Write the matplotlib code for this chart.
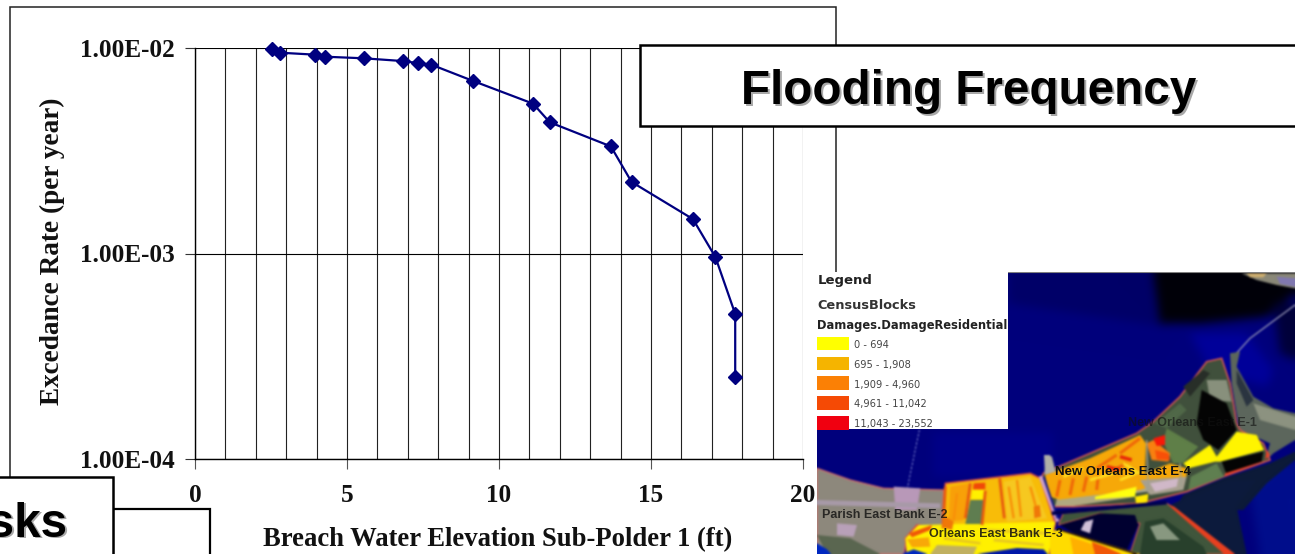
import matplotlib
matplotlib.use("Agg")
import numpy as np
import matplotlib.pyplot as plt
from matplotlib.backends.backend_agg import FigureCanvasAgg
from matplotlib.figure import Figure
from matplotlib.patches import Polygon, Rectangle

# ---- chart data
breach_elev = [2.53, 2.78, 3.95, 4.28, 5.55, 6.83, 7.32, 7.76, 9.15, 11.12, 11.67, 13.68, 14.36, 16.38, 17.12, 17.77, 17.77]
exceed_rate = [9.89e-3, 9.49e-3, 9.28e-3, 9.07e-3, 8.91e-3, 8.64e-3, 8.45e-3, 8.31e-3, 6.91e-3,
               5.36e-3, 4.35e-3, 3.32e-3, 2.23e-3, 1.47e-3, 9.6e-4, 5.08e-4, 2.5e-4]
x_ticks = [0, 5, 10, 15, 20]
y_ticks = [1e-2, 1e-3, 1e-4]
y_tick_labels = ["1.00E-02", "1.00E-03", "1.00E-04"]
x_label = "Breach Water Elevation Sub-Polder 1 (ft)"
y_label = "Excedance Rate (per year)"
title_main = "Flooding Frequency"
title_cut = "Risks"
legend_titles = ["Legend", "CensusBlocks", "Damages.DamageResidential"]
legend_labels = ["0 - 694", "695 - 1,908", "1,909 - 4,960", "4,961 - 11,042", "11,043 - 23,552"]
legend_colors = ["#ffff00", "#f5b400", "#fb8005", "#f54a05", "#f00010"]
map_labels = ["New Orleans East E-1", "New Orleans East E-4", "Parish East Bank E-2", "Orleans East Bank E-3"]

W, H = 1295, 554
fig = plt.figure(figsize=(W / 100, H / 100), dpi=100, facecolor="white")
SERIF = "Liberation Serif"
SANS = "Liberation Sans"


def px_axes(x0, y0, x1, y1, z):
    a = fig.add_axes([x0 / W, 1 - y1 / H, (x1 - x0) / W, (y1 - y0) / H], zorder=z)
    a.patch.set_alpha(0)
    a.set_axis_off()
    return a


# ---- chart frame
under = px_axes(0, 0, W, H, 1)
under.set_xlim(0, W)
under.set_ylim(H, 0)
under.add_patch(Rectangle((10, 7), 826, 600, fc="white", ec="#222222", lw=1.1))

# ---- chart
ax = fig.add_axes([195 / W, 1 - 459 / H, (803 - 195) / W, (459 - 48) / H], zorder=2)
ax.patch.set_alpha(0)
ax.set_xlim(0, 20)
ax.set_yscale("log")
ax.set_ylim(1e-4, 1e-2)
ax.set_xticks(x_ticks)
ax.set_xticks(range(0, 21), minor=True)
ax.set_yticks(y_ticks)
ax.set_yticklabels(y_tick_labels, fontfamily=SERIF, fontweight="bold", fontsize=18.2, color="#111111")
ax.yaxis.set_minor_locator(matplotlib.ticker.NullLocator())
ax.set_xticklabels([str(t) for t in x_ticks], fontfamily=SERIF, fontweight="bold", fontsize=18.2, color="#111111")
ax.tick_params(axis="x", which="major", length=7, width=0.8, color="#555555", pad=11)
ax.tick_params(axis="x", which="minor", length=0)
ax.tick_params(axis="y", which="major", length=7, width=0.8, color="#333333", pad=7.5)
ax.grid(True, which="major", axis="y", color="black", lw=0.8)
ax.grid(True, which="both", axis="x", color="#222222", lw=0.8)
for s in ["top", "right"]:
    ax.spines[s].set_visible(False)
for s in ["left", "bottom"]:
    ax.spines[s].set_linewidth(1.0)
ax.plot(breach_elev, exceed_rate, color="#000080", lw=1.6, marker="D", ms=7.4, mec="#000080", clip_on=False, zorder=5)
under.text(498, 540, x_label, family=SERIF, weight="bold", fontsize=19.2, ha="center", va="center", color="#111111")
under.text(52, 251, y_label, family=SERIF, weight="bold", fontsize=19.6, ha="center", va="center",
           rotation=90, color="#111111")


# ---- map picture: hand-traced shapes, softened so that it reads as a photograph
def render(draw):
    f = Figure(figsize=(4.78, 2.82), dpi=100)
    f.patch.set_alpha(0)
    a = f.add_axes([0, 0, 1, 1])
    a.set_xlim(51, 1485)
    a.set_ylim(882, 36)
    a.set_axis_off()
    draw(a)
    c = FigureCanvasAgg(f)
    c.draw()
    return np.asarray(c.buffer_rgba()).astype(float) / 255


def blur(img, passes):
    out = img.copy()
    for _ in range(passes):
        for axis in (0, 1):
            lo = np.take(out, [0], axis=axis)
            hi = np.take(out, [-1], axis=axis)
            p = np.concatenate([lo, out, hi], axis=axis)
            if axis == 0:
                out = 0.25 * p[:-2] + 0.5 * p[1:-1] + 0.25 * p[2:]
            else:
                out = 0.25 * p[:, :-2] + 0.5 * p[:, 1:-1] + 0.25 * p[:, 2:]
    return out


def poly(a, pts, color, z=1, dx=0, dy=0, ec="none", lw=0):
    a.add_patch(Polygon([(x + dx, y + dy) for x, y in pts], closed=True, fc=color, ec=ec, lw=lw, zorder=z))


def strips(a, segs, color, lw, z, dx=0, dy=0):
    for (x0, y0, x1, y1) in segs:
        a.plot([x0 + dx, x1 + dx], [y0 + dy, y1 + dy], color=color, lw=lw, zorder=z, solid_capstyle="butt")


def draw_water(a):
    a.add_patch(Rectangle((51, 36), 1434, 846, fc="#00007c", ec="none"))
    poly(a, [(625, 36), (1100, 36), (1100, 200), (625, 130)], "#000068")
    poly(a, [(1060, 36), (1485, 36), (1485, 100), (1400, 170), (1200, 190), (1080, 190)], "#000008", 2)
    poly(a, [(1170, 220), (1340, 220), (1420, 330), (1400, 380), (1230, 330)], "#00009a", 2)
    poly(a, [(1420, 130), (1485, 130), (1485, 300), (1440, 280)], "#00003a", 2)
    poly(a, [(1340, 640), (1485, 600), (1485, 882), (1380, 882)], "#000e8c", 2)
    poly(a, [(400, 520), (760, 520), (760, 650), (400, 650)], "#000088", 2)


def draw_land(a):
    # causeways
    a.plot([1485, 1350, 1300], [135, 235, 290], color="#9a9ab8", lw=0.9, zorder=2)
    a.plot([358, 322], [510, 685], color="#9aa0e0", lw=0.6, ls=(0, (3, 2)), zorder=2)
    # land at the top right corner
    poly(a, [(1325, 40), (1485, 40), (1485, 85), (1430, 75), (1370, 60)], "#8a8878", 2)
    poly(a, [(1340, 40), (1400, 40), (1390, 52), (1350, 52)], "#d0b070", 3)
    poly(a, [(1430, 50), (1485, 55), (1485, 80), (1440, 72)], "#8078b0", 3)

    # --- New Orleans East, traced on crop 1
    d = dict(dx=720, dy=240)
    poly(a, [(570, 40), (600, 35), (590, 80), (640, 170), (700, 205), (765, 220), (765, 300), (700, 340),
             (675, 365), (690, 310), (600, 270), (590, 220), (575, 130)], "#5c665c", 2, **d)
    poly(a, [(640, 190), (765, 230), (765, 270), (660, 240)], "#8c9280", 3, **d)
    poly(a, [(590, 90), (640, 180), (620, 200), (590, 130)], "#2a3440", 3, **d)
    poly(a, [(690, 370), (765, 335), (765, 360), (680, 430), (610, 510), (400, 510), (430, 465), (550, 415)],
         "#0c1a38", 2, **d)
    outer = [(10, 400), (150, 340), (290, 280), (340, 245), (420, 170), (500, 65), (545, 55), (570, 130), (590, 250),
             (600, 270), (670, 310), (690, 360), (550, 410), (440, 455), (300, 490), (100, 500), (40, 500), (0, 430)]
    poly(a, outer, "#40503c", 3, ec="#d85850", lw=1.1, **d)
    poly(a, [(345, 250), (420, 190), (440, 210), (380, 265)], "#506848", 4, **d)
    poly(a, [(500, 120), (560, 120), (575, 185), (510, 180)], "#88907c", 4, **d)
    poly(a, [(430, 140), (490, 90), (510, 100), (450, 170)], "#282e28", 4, **d)
    poly(a, [(470, 250), (485, 150), (560, 190), (590, 270), (535, 330), (490, 300)], "#040404", 5, **d)
    poly(a, [(380, 265), (475, 320), (430, 368), (400, 370), (385, 340), (370, 305)], "#5f7f48", 5, **d)
    poly(a, [(452, 410), (530, 370), (552, 410), (445, 450)], "#5f7f50", 5, **d)
    poly(a, [(545, 365), (670, 335), (665, 365), (560, 405)], "#040404", 5, **d)
    poly(a, [(430, 370), (510, 315), (530, 350), (590, 275), (650, 285), (672, 330), (540, 365), (525, 365), (445, 385)],
         "#fff400", 6, **d)
    poly(a, [(555, 408), (670, 365), (690, 345), (680, 330), (675, 362), (555, 400)], "#e84028", 6, **d)
    # urban belt
    poly(a, [(15, 405), (150, 355), (300, 285), (318, 310), (315, 400), (390, 370), (440, 385), (440, 410), (330, 440),
             (300, 450), (60, 480), (30, 470)], "#f6a808", 5, **d)
    poly(a, [(320, 310), (340, 300), (390, 340), (385, 365), (335, 360)], "#f88010", 6, **d)
    poly(a, [(340, 295), (375, 285), (375, 315), (350, 318)], "#f81808", 7, **d)
    poly(a, [(345, 330), (385, 340), (390, 360), (350, 358)], "#f85008", 7, **d)
    poly(a, [(165, 470), (290, 440), (285, 470), (165, 478)], "#ffff10", 7, **d)
    poly(a, [(285, 470), (325, 462), (322, 488), (288, 490)], "#ffe800", 7, **d)
    poly(a, [(300, 420), (440, 410), (430, 450), (330, 465)], "#a8a090", 6, **d)
    poly(a, [(330, 430), (415, 415), (410, 440), (345, 455)], "#d0b8c8", 7, **d)
    poly(a, [(50, 480), (170, 465), (290, 470), (100, 498), (45, 498)], "#b0a880", 6, **d)
    strips(a, [(50, 470, 60, 420), (90, 465, 100, 415), (130, 455, 140, 410), (170, 450, 175, 405), (210, 395, 260, 370),
               (170, 385, 230, 345), (240, 340, 300, 295)], "#f06808", 2.2, 7, **d)
    strips(a, [(70, 410, 130, 385), (150, 420, 220, 400), (240, 420, 300, 395), (250, 370, 290, 395)], "#ffe020", 2.0, 7, **d)
    strips(a, [(200, 380, 240, 390), (240, 350, 275, 360)], "#e82808", 2.6, 8, **d)
    strips(a, [(320, 300, 325, 460), (420, 370, 425, 450)], "#a0a090", 1.0, 8, **d)
    poly(a, [(12, 345), (30, 345), (45, 395), (15, 405)], "#b0b0a8", 6, **d)

    # --- west and central bank, traced on crop 2
    d = dict(dx=51, dy=570)
    poly(a, [(0, 55), (100, 90), (200, 115), (380, 120), (375, 230), (270, 260), (260, 312), (0, 312)], "#8d887c", 3,
         ec="#d86a6a", lw=0.9, **d)
    poly(a, [(230, 110), (310, 115), (300, 180), (235, 180)], "#b898b8", 4, **d)
    poly(a, [(0, 150), (370, 160), (370, 175), (0, 165)], "#a89aa8", 4, **d)
    poly(a, [(60, 220), (120, 225), (110, 260), (60, 255)], "#b8a0b8", 4, **d)
    poly(a, [(0, 255), (100, 265), (190, 312), (30, 312)], "#5a6650", 4, **d)
    poly(a, [(0, 280), (30, 298), (42, 312), (0, 312)], "#0028c0", 5, **d)
    poly(a, [(385, 100), (470, 90), (640, 70), (670, 85), (715, 220), (695, 312), (270, 312), (265, 265), (300, 225),
             (378, 235)], "#f8bc08", 4, ec="#d84848", lw=1.1, **d)
    poly(a, [(305, 225), (715, 215), (695, 312), (270, 312), (265, 265)], "#fff000", 5, **d)
    poly(a, [(400, 110), (455, 100), (440, 210), (395, 215)], "#f8a008", 6, **d)
    poly(a, [(560, 95), (640, 80), (690, 205), (570, 215)], "#f6c820", 6, **d)
    poly(a, [(460, 150), (500, 150), (495, 222), (445, 222)], "#5f7d50", 7, **d)
    poly(a, [(465, 120), (505, 120), (500, 148), (462, 148)], "#fff000", 7, **d)
    poly(a, [(470, 100), (505, 98), (505, 118), (468, 118)], "#f04808", 7, **d)
    strips(a, [(460, 100, 445, 205), (505, 122, 495, 225), (548, 85, 562, 205), (385, 110, 378, 235)], "#e85a10", 2.0, 7, **d)
    strips(a, [(600, 90, 612, 200), (640, 110, 665, 200), (575, 110, 590, 205), (420, 130, 410, 210)], "#f89008", 1.7, 7, **d)
    poly(a, [(650, 170), (668, 165), (672, 200), (652, 205)], "#f07808", 7, **d)
    poly(a, [(378, 195), (410, 215), (405, 240), (375, 232)], "#f07808", 7, **d)
    poly(a, [(275, 250), (345, 225), (340, 240), (285, 262)], "#f05808", 7, **d)
    poly(a, [(270, 268), (335, 262), (340, 290), (285, 292)], "#f8a808", 6, **d)
    poly(a, [(360, 285), (480, 290), (470, 312), (340, 312)], "#c0b060", 6, **d)
    strips(a, [(500, 240, 690, 250), (530, 270, 680, 285), (380, 265, 490, 280)], "#e8c820", 2.0, 6, **d)
    poly(a, [(255, 312), (290, 298), (332, 312)], "#0028c0", 8, **d)
    poly(a, [(480, 312), (600, 294), (680, 298), (692, 312)], "#0018a8", 8, **d)
    strips(a, [(670, 78, 722, 215)], "#d0a0c8", 2.6, 8, **d)
    strips(a, [(680, 80, 722, 205)], "#101890", 1.4, 9, **d)
    poly(a, [(688, 15), (705, 20), (716, 65), (682, 72)], "#a8a8a0", 5, **d)

    # --- south east wedge, traced on crop 4
    d = dict(dx=750, dy=660)
    poly(a, [(360, 75), (530, 0), (620, 0), (560, 80), (590, 222), (540, 222)], "#0c1a3c", 3, **d)
    poly(a, [(25, 135), (40, 100), (350, 70), (375, 85), (530, 222), (240, 222), (270, 130), (150, 100)], "#40563c", 4,
         ec="#c85848", lw=0.8, **d)
    poly(a, [(30, 135), (150, 100), (255, 105), (265, 135), (235, 200), (225, 222), (180, 222)], "#000030", 5, **d)
    poly(a, [(285, 125), (340, 115), (460, 200), (470, 222), (270, 222)], "#28402c", 5, **d)
    poly(a, [(300, 140), (340, 130), (390, 180), (320, 180)], "#889880", 6, **d)
    poly(a, [(105, 125), (130, 118), (120, 160), (92, 150)], "#d0c0d8", 7, **d)
    poly(a, [(355, 75), (372, 80), (555, 222), (522, 222)], "#e84020", 7, **d)
    poly(a, [(0, 155), (30, 148), (270, 222), (0, 222)], "#ffdc00", 6, **d)
    poly(a, [(60, 170), (120, 190), (160, 222), (70, 222)], "#ffb000", 7, **d)
    poly(a, [(125, 185), (165, 200), (215, 222), (135, 222)], "#f05808", 8, **d)
    strips(a, [(25, 148, 260, 222)], "#200808", 1.1, 8, **d)
    poly(a, [(20, 30), (330, 5), (330, 30), (20, 70)], "#a8a890", 4, **d)
    strips(a, [(5, 100, 350, 68)], "#000050", 2.6, 9, **d)


water_img = blur(render(draw_water), 45)[..., :3]
land_raw = render(draw_land)
land_alpha = land_raw[..., 3:]
land_pre = blur(np.concatenate([land_raw[..., :3] * land_alpha, land_alpha], axis=2), 2)
map_img = np.clip(water_img * (1 - land_pre[..., 3:]) + land_pre[..., :3], 0, 1)

m = px_axes(817, 272, W, H, 3)
m.imshow(map_img, extent=(51, 1485, 882, 36), interpolation="bilinear", aspect="auto", zorder=1)
m.set_xlim(51, 1485)
m.set_ylim(882, 36)
m.plot([51, 1485], [37, 37], color="#808080", lw=0.8, zorder=2)

# map labels
lab_kw = dict(family=SANS, weight="bold", color="#101010", va="center", zorder=9)
m.text(985, 488, map_labels[0], fontsize=9, alpha=0.6, **lab_kw)
m.text(765, 636, map_labels[1], fontsize=9.5, **lab_kw)
m.text(65, 765, map_labels[2], fontsize=9, alpha=0.8, **lab_kw)
m.text(388, 821, map_labels[3], fontsize=9, alpha=0.85, **lab_kw)

# legend
m.add_patch(Rectangle((51, 36), 574, 472, fc="white", ec="none", zorder=10))
m.text(52, 62, legend_titles[0], family="DejaVu Sans", weight="bold", fontsize=9.5, va="center", color="#222222", zorder=11)
m.text(52, 136, legend_titles[1], family="DejaVu Sans", weight="bold", fontsize=9.3, va="center", color="#333333", zorder=11)
m.text(52, 196, legend_titles[2], family="DejaVu Sans", weight="bold", fontsize=8.3, va="center", color="#222222", zorder=11)
for i, (lab, col) in enumerate(zip(legend_labels, legend_colors)):
    yc = 251 + i * 59.5
    m.add_patch(Rectangle((52, yc - 21), 94, 41, fc=col, ec="none", zorder=11))
    m.text(163, yc + 4, lab, family="DejaVu Sans", fontsize=7.1, va="center", color="#444444", zorder=11)

# ---- text boxes
top = px_axes(0, 0, W, H, 4)
top.set_xlim(0, W)
top.set_ylim(H, 0)
top.add_patch(Rectangle((113, 509), 97, 80, fc="white", ec="black", lw=1.6, zorder=1))
top.add_patch(Rectangle((-20, 477), 133, 120, fc="white", ec="black", lw=1.8, zorder=2))
top.add_patch(Rectangle((640, 45), 700, 81, fc="white", ec="black", lw=1.8, zorder=2))
box_kw = dict(family=SANS, weight="bold", fontsize=34.3, zorder=3, va="baseline")
top.text(971, 105.5, title_main, color="#a8a8a8", ha="center", **box_kw)
top.text(969, 104, title_main, color="black", ha="center", **box_kw)
top.text(70, 538.5, title_cut, color="#a8a8a8", ha="right", **box_kw)
top.text(68, 537, title_cut, color="black", ha="right", **box_kw)

fig.savefig("out.png", dpi=100)
